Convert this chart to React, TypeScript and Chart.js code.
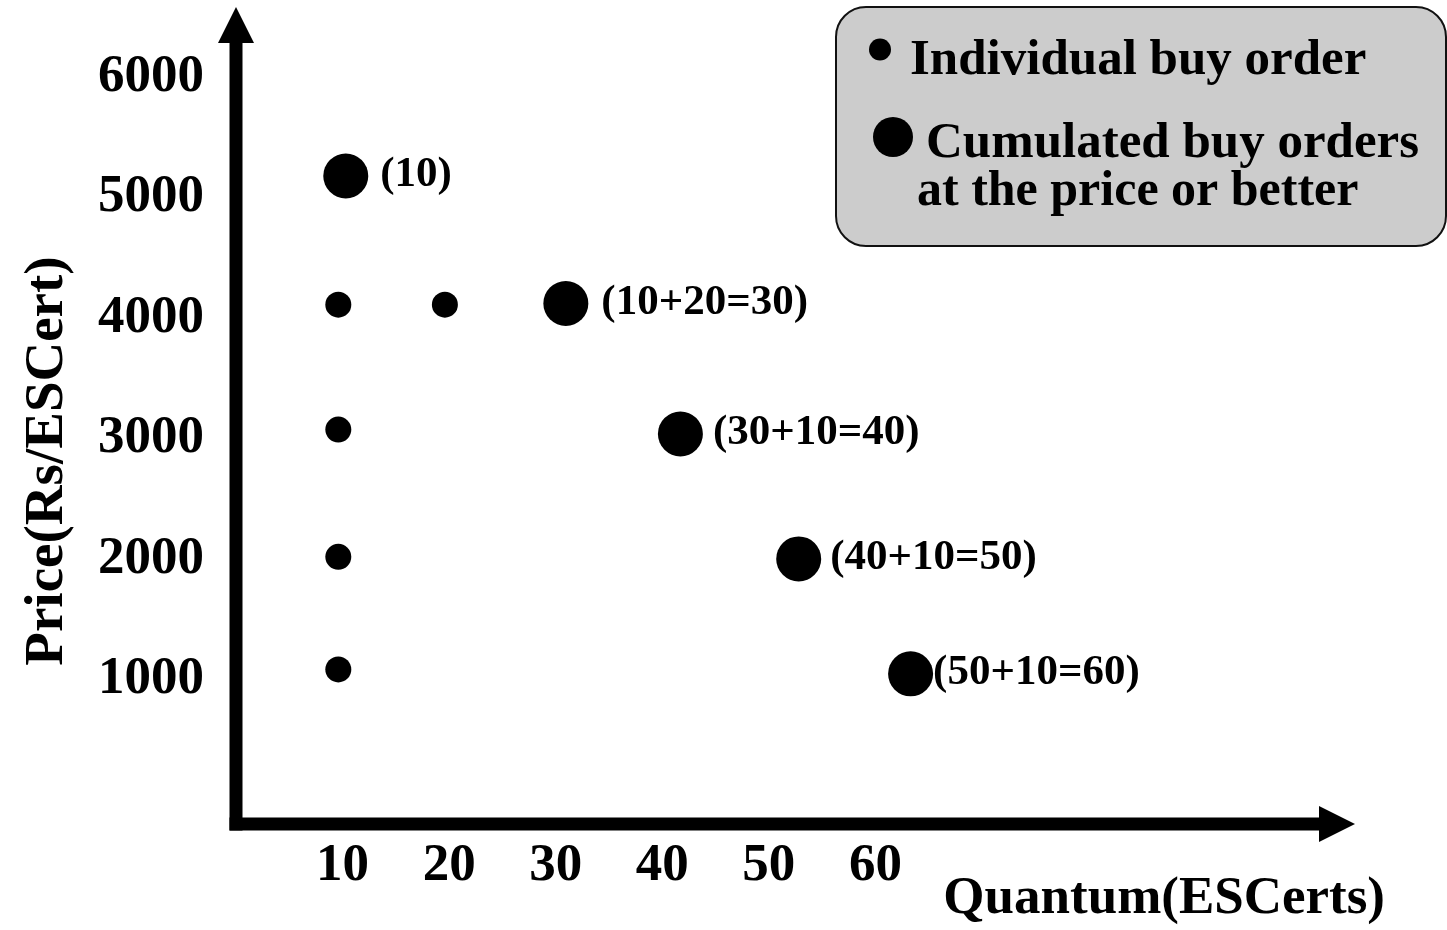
import React, { useEffect, useRef } from "react";
import { Chart, registerables } from "chart.js";

Chart.register(...registerables);

// ---- data ----
const INDIVIDUAL_X = [9.6, 19.6, 9.6, 9.6, 9.6];
const INDIVIDUAL_Y = [4110, 4110, 3073, 2017, 1083];
const CUMULATED_X = [10.3, 30.95, 41.7, 52.8, 63.3];
const CUMULATED_Y = [5178, 4120, 3037, 2000, 1046];
const CUMULATED_LABELS = ["(10)", "(10+20=30)", "(30+10=40)", "(40+10=50)", "(50+10=60)"];
const X_TICKS = [10, 20, 30, 40, 50, 60];
const Y_TICKS = [1000, 2000, 3000, 4000, 5000, 6000];
const X_TITLE = "Quantum(ESCerts)";
const Y_TITLE = "Price(Rs/ESCert)";
const LEGEND_INDIVIDUAL = ["Individual buy order"];
const LEGEND_CUMULATED = ["Cumulated buy orders", "at the price or better"];

// ---- styling ----
const FONT = "'Liberation Serif', 'DejaVu Serif', serif";
const R_SMALL = 13;
const R_BIG = 22.5;
const LABEL_GAPS = [12, 13, 10, 9, 0];

const axesPlugin = {
  id: "arrowAxes",
  beforeDatasetsDraw(chart: any) {
    const { ctx, chartArea } = chart;
    const x0 = chart.scales.x.getPixelForValue(0);
    const y0 = chartArea.bottom;
    const half = 6.5;
    const head = 36;
    const headHalf = 18;
    ctx.save();
    ctx.fillStyle = "#000";
    // vertical axis
    ctx.fillRect(x0 - half, chartArea.top + head, half * 2, y0 + half - (chartArea.top + head));
    ctx.beginPath();
    ctx.moveTo(x0, chartArea.top);
    ctx.lineTo(x0 - headHalf, chartArea.top + head);
    ctx.lineTo(x0 + headHalf, chartArea.top + head);
    ctx.closePath();
    ctx.fill();
    // horizontal axis
    ctx.fillRect(x0 - half, y0 - half, chartArea.right - head - (x0 - half), half * 2);
    ctx.beginPath();
    ctx.moveTo(chartArea.right, y0);
    ctx.lineTo(chartArea.right - head, y0 - headHalf);
    ctx.lineTo(chartArea.right - head, y0 + headHalf);
    ctx.closePath();
    ctx.fill();
    ctx.restore();
  },
};

const labelsPlugin = {
  id: "pointLabels",
  afterDatasetsDraw(chart: any) {
    const { ctx } = chart;
    const meta = chart.getDatasetMeta(1);
    ctx.save();
    ctx.fillStyle = "#000";
    ctx.font = `bold 43px ${FONT}`;
    ctx.textAlign = "left";
    ctx.textBaseline = "middle";
    meta.data.forEach((pt: any, i: number) => {
      ctx.fillText(CUMULATED_LABELS[i], pt.x + R_BIG + LABEL_GAPS[i], pt.y - 1);
    });
    ctx.restore();
  },
};

const decorPlugin = {
  id: "decor",
  afterDraw(chart: any) {
    const { ctx } = chart;
    ctx.save();
    ctx.fillStyle = "#000";
    // x axis title
    ctx.font = `bold 53px ${FONT}`;
    ctx.textAlign = "right";
    ctx.textBaseline = "alphabetic";
    ctx.fillText(X_TITLE, 1385, 913);

    // y axis title (rotated)
    ctx.save();
    ctx.translate(62, 461);
    ctx.rotate(-Math.PI / 2);
    ctx.font = `bold 55px ${FONT}`;
    ctx.textAlign = "center";
    ctx.textBaseline = "alphabetic";
    ctx.fillText(Y_TITLE, 0, 0);
    ctx.restore();

    // legend box
    const bx = 836, by = 7, bw = 610, bh = 239, r = 30;
    ctx.beginPath();
    ctx.moveTo(bx + r, by);
    ctx.lineTo(bx + bw - r, by);
    ctx.arcTo(bx + bw, by, bx + bw, by + r, r);
    ctx.lineTo(bx + bw, by + bh - r);
    ctx.arcTo(bx + bw, by + bh, bx + bw - r, by + bh, r);
    ctx.lineTo(bx + r, by + bh);
    ctx.arcTo(bx, by + bh, bx, by + bh - r, r);
    ctx.lineTo(bx, by + r);
    ctx.arcTo(bx, by, bx + r, by, r);
    ctx.closePath();
    ctx.fillStyle = "#cccccc";
    ctx.fill();
    ctx.lineWidth = 2;
    ctx.strokeStyle = "#111";
    ctx.stroke();

    ctx.fillStyle = "#000";
    ctx.beginPath();
    ctx.arc(880, 49.5, 11, 0, Math.PI * 2);
    ctx.fill();
    ctx.beginPath();
    ctx.arc(893, 137, 20, 0, Math.PI * 2);
    ctx.fill();

    ctx.font = `bold 51px ${FONT}`;
    ctx.textAlign = "left";
    ctx.fillText(LEGEND_INDIVIDUAL[0], 910, 74);
    ctx.fillText(LEGEND_CUMULATED[0], 926, 157);
    ctx.font = `bold 50px ${FONT}`;
    ctx.fillText(LEGEND_CUMULATED[1], 917, 205);
    ctx.restore();
  },
};

export default function App() {
  const ref = useRef<HTMLCanvasElement | null>(null);

  useEffect(() => {
    if (!ref.current) return;
    const tickFont = { family: FONT, size: 53, weight: "bold" as const };
    const chart = new Chart(ref.current, {
      type: "scatter",
      data: {
        datasets: [
          {
            label: LEGEND_INDIVIDUAL[0],
            data: INDIVIDUAL_X.map((x, i) => ({ x, y: INDIVIDUAL_Y[i] })),
            pointRadius: R_SMALL,
            pointHoverRadius: R_SMALL,
            backgroundColor: "#000",
            borderColor: "#000",
            borderWidth: 0,
            showLine: false,
          },
          {
            label: LEGEND_CUMULATED.join(" "),
            data: CUMULATED_X.map((x, i) => ({ x, y: CUMULATED_Y[i] })),
            pointRadius: R_BIG,
            pointHoverRadius: R_BIG,
            backgroundColor: "#000",
            borderColor: "#000",
            borderWidth: 0,
            showLine: false,
          },
        ],
      },
      options: {
        animation: false,
        responsive: true,
        maintainAspectRatio: false,
        devicePixelRatio: 1,
        layout: { autoPadding: false, padding: { top: 7, right: 92, bottom: 0, left: 0 } },
        plugins: {
          legend: { display: false },
          tooltip: { enabled: false },
        },
        scales: {
          x: {
            type: "linear",
            min: 0,
            max: 105,
            afterBuildTicks: (s: any) => {
              s.ticks = X_TICKS.map((v) => ({ value: v }));
            },
            afterFit: (s: any) => {
              s.height = 106;
              s.paddingLeft = 0;
              s.paddingRight = 0;
            },
            grid: { display: false, drawTicks: false },
            border: { display: false },
            ticks: {
              color: "#000",
              font: tickFont,
              padding: 11,
              maxRotation: 0,
              autoSkip: false,
              callback: (v: any) => String(v),
            },
          },
          y: {
            type: "linear",
            min: -200,
            max: 6580,
            afterBuildTicks: (s: any) => {
              s.ticks = Y_TICKS.map((v) => ({ value: v }));
            },
            afterFit: (s: any) => {
              s.width = 236;
              s.paddingTop = 0;
              s.paddingBottom = 0;
            },
            grid: { display: false, drawTicks: false },
            border: { display: false },
            ticks: {
              color: "#000",
              font: tickFont,
              padding: 32,
              autoSkip: false,
              callback: (v: any) => String(v),
            },
          },
        },
      },
      plugins: [axesPlugin, labelsPlugin, decorPlugin],
    });
    return () => chart.destroy();
  }, []);

  return (
    <div style={{ position: "fixed", left: 0, top: 0, width: 1447, height: 930, background: "#fff" }}>
      <canvas ref={ref} />
    </div>
  );
}
